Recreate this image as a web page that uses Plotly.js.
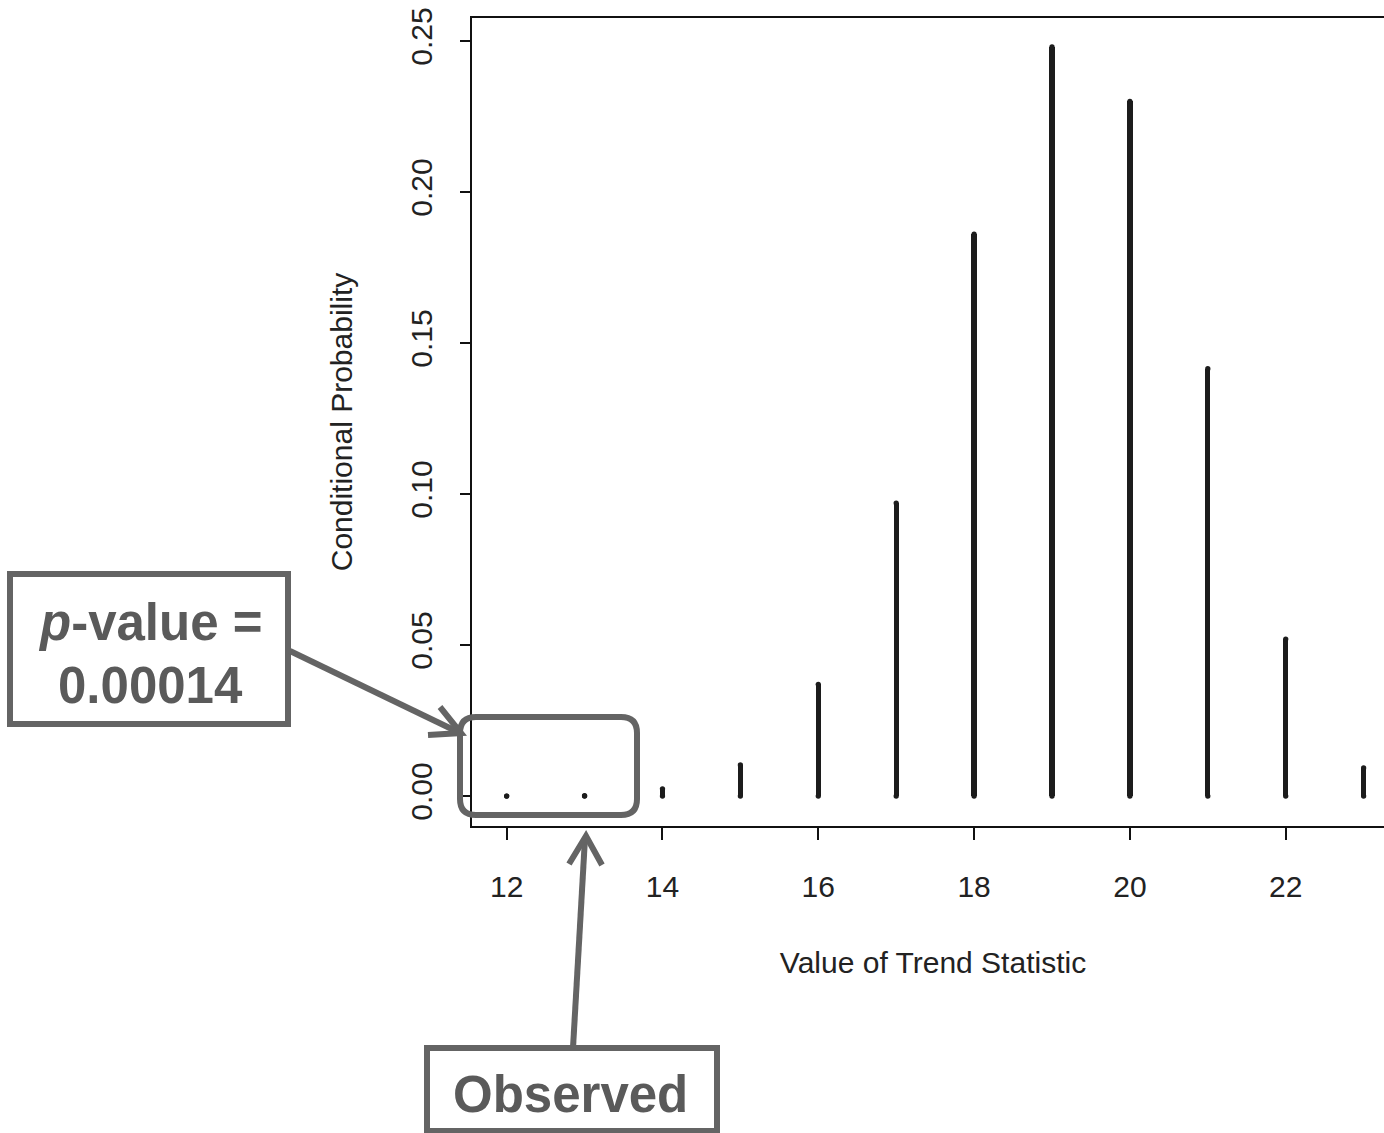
<!DOCTYPE html>
<html>
<head>
<meta charset="utf-8">
<script src="https://cdn.plot.ly/plotly-3.0.1.min.js"></script>
<style>
html,body{margin:0;padding:0;overflow:hidden;background:#fff;width:1384px;height:1133px;}
#chart{width:1400px;height:1133px;}
</style>
</head>
<body>
<div id="chart"></div>
<script>
// ---- data ----
const trendValues = [12, 13, 14, 15, 16, 17, 18, 19, 20, 21, 22, 23];
const condProb    = [0.00002, 0.00012, 0.0024, 0.0103, 0.037, 0.097, 0.186, 0.248, 0.230, 0.1415, 0.052, 0.0093];
const xTicks = [12, 14, 16, 18, 20, 22];
const yTicks = [0, 0.05, 0.10, 0.15, 0.20, 0.25];
const yTickText = ["0.00", "0.05", "0.10", "0.15", "0.20", "0.25"];
const xTitle = "Value of Trend Statistic";
const yTitle = "Conditional Probability";
const pLabel1 = "<i>p</i>-value =";
const pLabel2 = "0.00014";
const obsLabel = "Observed";

// ---- layout helpers (pixel -> paper) ----
const L = 472, T = 18, W = 922, H = 808, FIGH = 1133;
const xp = px => (px - L) / W;
const yp = py => (T + H - py) / H;
const gray = "#646464";
const font = "Liberation Sans, Arial, sans-serif";

const sticks = {
  type: "bar", x: trendValues, y: condProb, width: 0.068,
  marker: {color: "#1c1c1c", line: {width: 0}}, hoverinfo: "skip"
};
const caps = {
  type: "scatter", mode: "markers",
  x: trendValues.concat(trendValues),
  y: condProb.concat(trendValues.map(() => 0)),
  marker: {size: 5.3, color: "#1c1c1c", line: {width: 0}}, hoverinfo: "skip"
};

function pathFrom(points, close) {
  return points.map((p, i) => (i ? "L" : "M") + xp(p[0]) + "," + yp(p[1])).join(" ") + (close ? " Z" : "");
}
function roundRect(x0, y0, x1, y1, r) {
  const P = (x, y) => xp(x) + "," + yp(y);
  return "M" + P(x0 + r, y0) + " L" + P(x1 - r, y0) + " Q" + P(x1, y0) + " " + P(x1, y0 + r) +
    " L" + P(x1, y1 - r) + " Q" + P(x1, y1) + " " + P(x1 - r, y1) +
    " L" + P(x0 + r, y1) + " Q" + P(x0, y1) + " " + P(x0, y1 - r) +
    " L" + P(x0, y0 + r) + " Q" + P(x0, y0) + " " + P(x0 + r, y0) + " Z";
}

const shapes = [
  {type: "rect", xref: "paper", yref: "paper", x0: xp(10), x1: xp(288), y0: yp(724), y1: yp(574),
   line: {color: gray, width: 6}, fillcolor: "#ffffff"},
  {type: "rect", xref: "paper", yref: "paper", x0: xp(427), x1: xp(717), y0: yp(1131), y1: yp(1048),
   line: {color: gray, width: 6}, fillcolor: "#ffffff"},
  {type: "path", xref: "paper", yref: "paper", path: roundRect(460, 717, 637, 815, 16),
   line: {color: gray, width: 6}},
  {type: "path", xref: "paper", yref: "paper", path: pathFrom([[290, 651], [458, 732]]),
   line: {color: gray, width: 6}},
  {type: "path", xref: "paper", yref: "paper", path: pathFrom([[440, 707], [461, 733], [428, 735]]),
   line: {color: gray, width: 6}},
  {type: "path", xref: "paper", yref: "paper", path: pathFrom([[573, 1048], [585, 838]]),
   line: {color: gray, width: 6}},
  {type: "path", xref: "paper", yref: "paper", path: pathFrom([[569, 864], [586, 836], [602, 865]]),
   line: {color: gray, width: 6}}
];

const annFont = {family: font, size: 51, color: "#5a5a5a", weight: "bold"};
const annotations = [
  {xref: "paper", yref: "paper", x: xp(150), y: yp(622), text: pLabel1, showarrow: false, font: annFont, xanchor: "center", yanchor: "middle"},
  {xref: "paper", yref: "paper", x: xp(150), y: yp(685), text: pLabel2, showarrow: false, font: annFont, xanchor: "center", yanchor: "middle"},
  {xref: "paper", yref: "paper", x: xp(570), y: yp(1094), text: obsLabel, showarrow: false, font: annFont, xanchor: "center", yanchor: "middle"}
];

const layout = {
  width: 1400, height: FIGH,
  margin: {l: L, r: 1400 - L - W, t: T, b: FIGH - T - H, pad: 0},
  paper_bgcolor: "#ffffff", plot_bgcolor: "#ffffff",
  showlegend: false, hovermode: false, bargap: 0,
  font: {family: font, color: "#222"},
  xaxis: {
    range: [11.555, 23.39], tickvals: xTicks, ticks: "outside", ticklen: 12, tickwidth: 2, tickcolor: "#111",
    showline: true, mirror: true, linecolor: "#111", linewidth: 2, showgrid: false, zeroline: false,
    tickfont: {size: 30, color: "#222", family: font}, ticklabelstandoff: 21,
    title: {text: xTitle, font: {size: 30, color: "#222", family: font}, standoff: 50}
  },
  yaxis: {
    range: [-0.0099, 0.2576], tickvals: yTicks, ticktext: yTickText, ticks: "outside", ticklen: 10, tickwidth: 2, tickcolor: "#111",
    showline: true, mirror: true, linecolor: "#111", linewidth: 2, showgrid: false, zeroline: false,
    tickangle: -90, tickfont: {size: 30, color: "#222", family: font}, ticklabelstandoff: 16,
    title: {text: yTitle, font: {size: 30, color: "#222", family: font}, standoff: 44}
  },
  shapes: shapes,
  annotations: annotations
};

Plotly.newPlot("chart", [sticks, caps], layout, {displayModeBar: false, staticPlot: true});
</script>
</body>
</html>
